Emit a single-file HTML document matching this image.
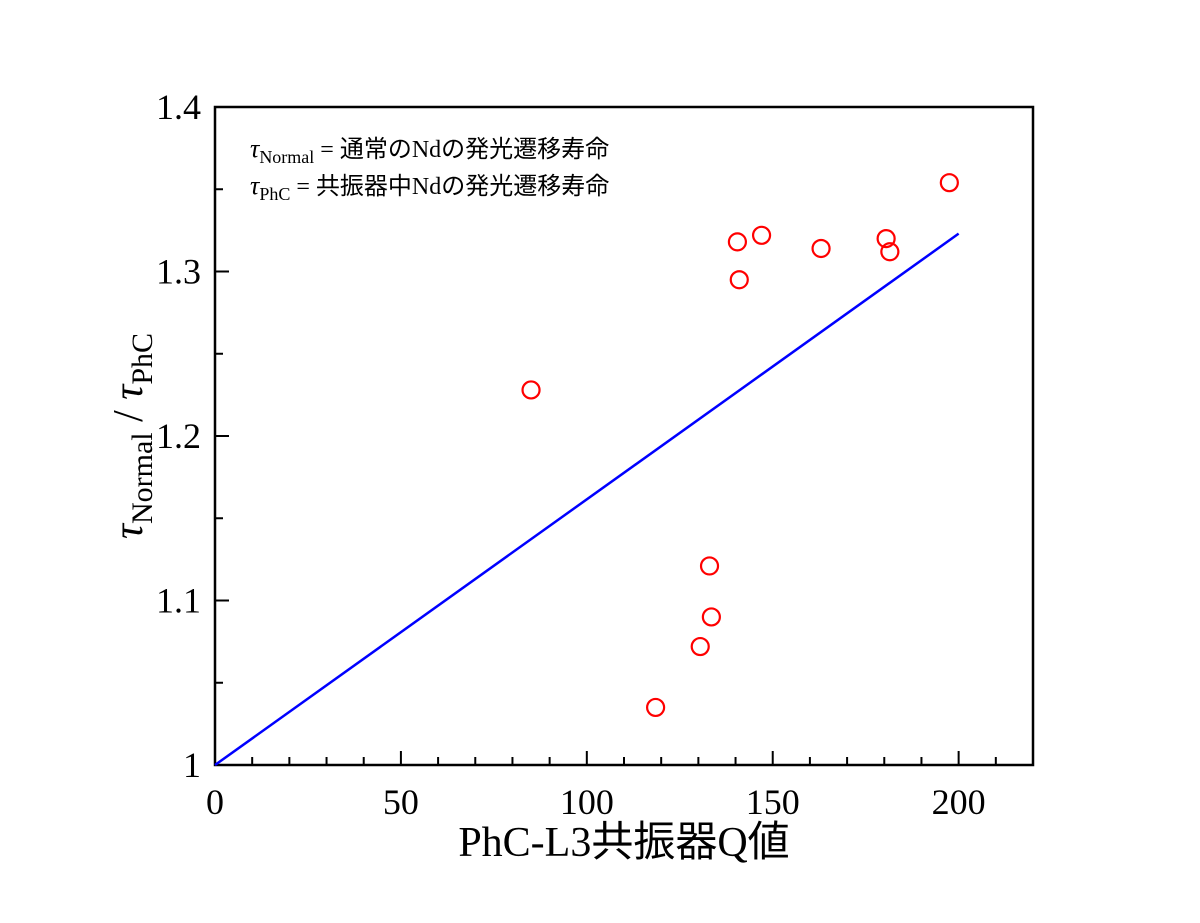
<!DOCTYPE html>
<html><head><meta charset="utf-8"><style>
body{margin:0;background:#fff}
svg text{font-family:"Liberation Serif","Noto Serif CJK SC",serif}
.cjk{font-family:"Liberation Serif","Noto Sans CJK JP",sans-serif}
</style></head><body>
<svg id="chart" width="1200" height="918" xmlns="http://www.w3.org/2000/svg">
<g id="ticks"></g>
<rect x="215" y="107" width="818" height="658" fill="none" stroke="#000" stroke-width="2.5"/>
<line id="fit" stroke="#0000ff" stroke-width="2.5"/>
<g id="pts"></g>
<text x="250" y="157" font-size="24"><tspan font-style="italic" font-size="26">τ</tspan><tspan font-size="18" dy="6">Normal</tspan><tspan dy="-6" class="cjk"> = 通常のNdの発光遷移寿命</tspan></text>
<text x="250" y="194" font-size="24"><tspan font-style="italic" font-size="26">τ</tspan><tspan font-size="18" dy="6">PhC</tspan><tspan dy="-6" class="cjk"> = 共振器中Ndの発光遷移寿命</tspan></text>
<text x="624" y="856" font-size="42" text-anchor="middle" class="cjk">PhC-L3共振器Q値</text>
<text transform="translate(142,436) rotate(-90)" font-size="42" text-anchor="middle"><tspan font-style="italic">τ</tspan><tspan font-size="30" dy="10">Normal</tspan><tspan dy="-10"> / </tspan><tspan font-style="italic">τ</tspan><tspan font-size="30" dy="10">PhC</tspan></text>
</svg>
<script>
const xs=[85,118.5,130.5,133,133.5,140.5,141,147,163,180.5,181.5,197.5];
const ys=[1.228,1.035,1.072,1.121,1.090,1.318,1.295,1.322,1.314,1.320,1.312,1.354];
const fitX=[0,200];
const fitY=[1,1.323];
const xTicks=[0,50,100,150,200];
const yTicks=[1,1.1,1.2,1.3,1.4];
const yLabels=["1","1.1","1.2","1.3","1.4"];
const X=v=>215+v*(818/220), Y=v=>765-(v-1)*1645;
const NS="http://www.w3.org/2000/svg";
const tg=document.getElementById('ticks'), pg=document.getElementById('pts');
function mk(t,a,p){const e=document.createElementNS(NS,t);for(const k in a)e.setAttribute(k,a[k]);p.appendChild(e);return e;}
for(let v=0;v<=220;v+=10){const maj=v%50===0;
 const l=mk('line',{x1:X(v),x2:X(v),y1:765,y2:765-(maj?14:8),stroke:'#000','stroke-width':2},tg);
 
 }
xTicks.forEach(v=>{const t=mk('text',{x:X(v),y:814,'font-size':36,'text-anchor':'middle'},tg);t.textContent=v;
 
 });
for(let i=0;i<=8;i++){const v=1+i*0.05;const maj=i%2===0;
 const l=mk('line',{x1:215,x2:215+(maj?14:8),y1:Y(v),y2:Y(v),stroke:'#000','stroke-width':2},tg);
 
 }
yTicks.forEach((v,i)=>{const t=mk('text',{x:201,y:Y(v)+12,'font-size':36,'text-anchor':'end'},tg);t.textContent=yLabels[i];
 
 });
const f=document.getElementById('fit');
f.setAttribute('x1',X(fitX[0]));f.setAttribute('y1',Y(fitY[0]));f.setAttribute('x2',X(fitX[1]));f.setAttribute('y2',Y(fitY[1]));
xs.forEach((x,i)=>{const c=mk('circle',{cx:X(x),cy:Y(ys[i]),r:8.5,fill:'none',stroke:'#ff0000','stroke-width':2.2},pg);
 
 });
</script>
</body></html>
